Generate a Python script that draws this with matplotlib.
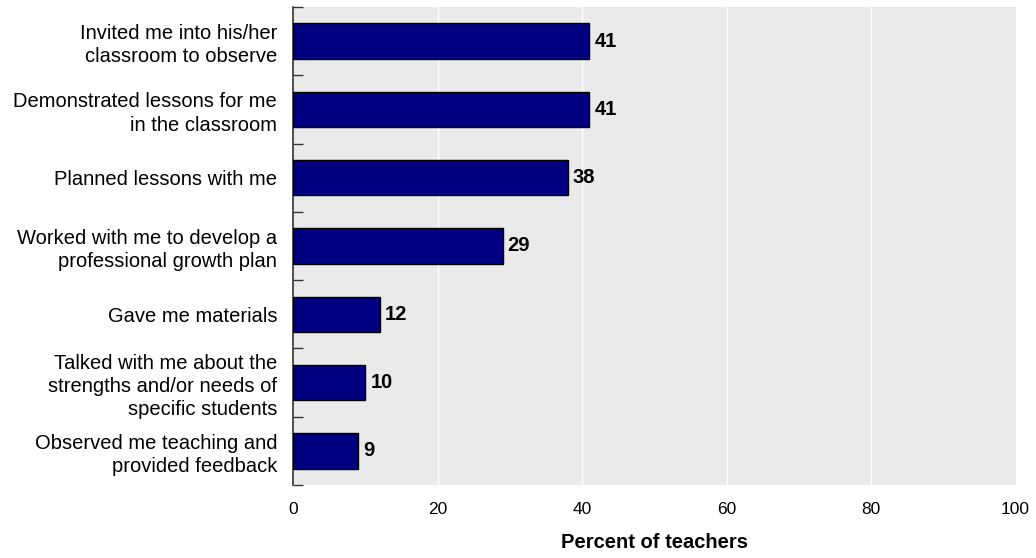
import matplotlib.pyplot as plt
import numpy as np

plt.rcParams['font.family'] = ['Liberation Sans', 'DejaVu Sans']

labels = [
    "Invited me into his/her\nclassroom to observe",
    "Demonstrated lessons for me\nin the classroom",
    "Planned lessons with me",
    "Worked with me to develop a\nprofessional growth plan",
    "Gave me materials",
    "Talked with me about the\nstrengths and/or needs of\nspecific students",
    "Observed me teaching and\nprovided feedback",
]
values = [41, 41, 38, 29, 12, 10, 9]
xticks = [0, 20, 40, 60, 80, 100]

fig = plt.figure(figsize=(10.36, 5.58), dpi=100)
ax = fig.add_axes([0.2828, 0.1308, 0.6975, 0.8567])
ax.set_facecolor('#EAEAEA')

y = np.arange(len(values))
bars = ax.barh(y, values, height=0.52, color='#000080', edgecolor='black', linewidth=1, zorder=3)
for b, v in zip(bars, values):
    ax.text(b.get_width() + 0.7, b.get_y() + b.get_height() / 2, str(v),
            va='center', ha='left', fontsize=14.5, fontweight='bold', zorder=4)

ax.set_xlim(0, 100)
ax.set_ylim(len(values) - 0.5, -0.5)
ax.set_xticks(xticks)
ax.set_xticklabels([str(t) for t in xticks], fontsize=12.5)
ax.tick_params(axis='x', length=0, pad=12)
for t in xticks[1:-1]:
    ax.axvline(t, color='white', linewidth=1, zorder=1)

# labels at category centres, tick marks at the boundaries
ax.set_yticks(y)
ax.set_yticklabels(labels, fontsize=14.5, linespacing=1.28)
ax.tick_params(axis='y', which='major', length=0, pad=11.5)
ax.set_yticks(np.arange(-0.5, len(values), 1), minor=True)
ax.tick_params(axis='y', which='minor', direction='in', length=7, width=1, color='#333333')

for s in ['top', 'right', 'bottom']:
    ax.spines[s].set_visible(False)
ax.spines['left'].set_color('#333333')
ax.spines['left'].set_linewidth(1.2)

ax.set_xlabel("Percent of teachers", fontsize=14.5, fontweight='bold', labelpad=12)

fig.savefig('out.png', dpi=100)
